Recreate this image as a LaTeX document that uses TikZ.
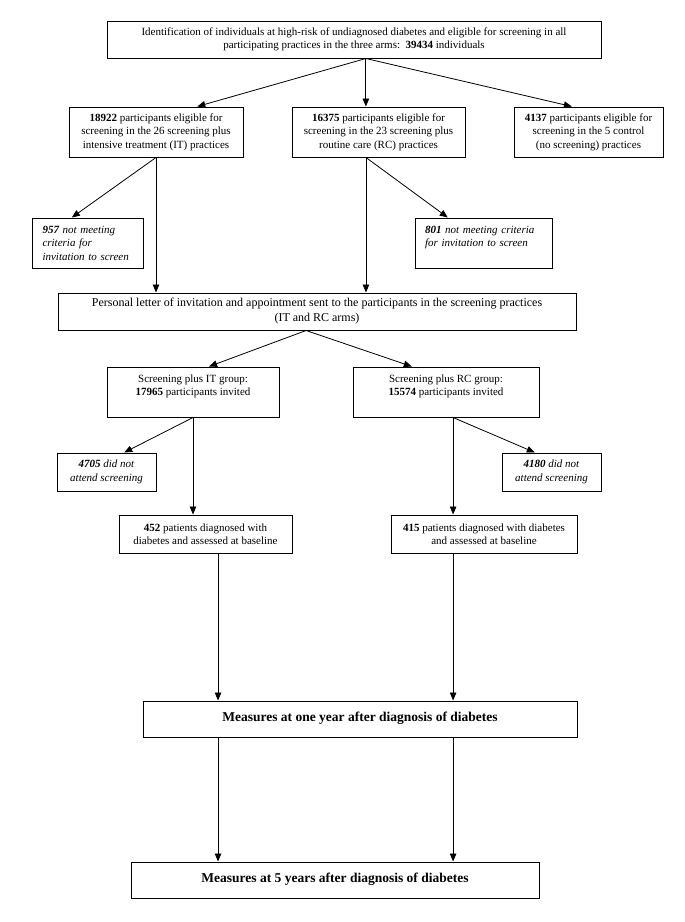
\documentclass[tikz,border=0pt]{standalone}
\usepackage{fontspec}
\setmainfont{Liberation Serif}
\usetikzlibrary{arrows.meta,calc}
\begin{document}
\begin{tikzpicture}[x=1pt,y=-1pt,
  box/.style={draw, line width=1pt, inner sep=0pt, align=center,
    font=\fontsize{11}{13.5}\selectfont},
  lbox/.style={box, align=left},
  bigbox/.style={box, font=\fontsize{13.5}{16}\selectfont\bfseries},
  arr/.style={-{Triangle[length=8pt,width=6.5pt]}, line width=0.8pt}]
\useasboundingbox (0,0) rectangle (685,922);

\node[box, minimum width=494pt, minimum height=37pt] (top) at (354,39.5)
  {Identification of individuals at high-risk of undiagnosed diabetes and eligible for screening in all\\
   participating practices in the three arms:\ \ \textbf{39434} individuals};

\node[box, minimum width=174pt, minimum height=50pt] (b1) at (156,132)
  {\textbf{18922} participants eligible for\\screening in the 26 screening plus\\intensive treatment (IT) practices};
\node[box, minimum width=173pt, minimum height=50pt] (b2) at (378.5,132)
  {\textbf{16375} participants eligible for\\screening in the 23 screening plus\\routine care (RC) practices};
\node[box, minimum width=149pt, minimum height=50pt] (b3) at (588.5,132)
  {\textbf{4137} participants eligible for\\screening in the 5 control\\(no screening) practices};

\node[lbox, inner xsep=10.5pt, text width=90pt, minimum height=50pt] (n957) at (87.5,243)
  {\mbox{\textit{\textbf{957} not meeting}}\\\mbox{\textit{criteria for}}\\\mbox{\textit{invitation to screen}}};
\node[lbox, inner xsep=10pt, text width=117pt, minimum height=50pt] (n801) at (483.5,243)
  {\mbox{\textit{\textbf{801} not meeting criteria}}\\\mbox{\textit{for invitation to screen}}\\\mbox{}};

\node[box, minimum width=518pt, minimum height=37pt, font=\fontsize{12}{15}\selectfont] (letter) at (317,311.5)
  {Personal letter of invitation and appointment sent to the participants in the screening practices\\(IT and RC arms)};

\node[box, minimum width=172pt, minimum height=50pt] (it) at (193,392)
  {Screening plus IT group:\\\textbf{17965} participants invited\\\mbox{}};
\node[box, minimum width=186pt, minimum height=50pt] (rc) at (446,392)
  {Screening plus RC group:\\\textbf{15574} participants invited\\\mbox{}};

\node[box, minimum width=99pt, minimum height=38pt] (n4705) at (106.5,472)
  {\textit{\textbf{4705} did not}\\\textit{attend screening}};
\node[box, minimum width=99pt, minimum height=38pt] (n4180) at (551.5,472)
  {\textit{\textbf{4180} did not}\\\textit{attend screening}};

\node[box, minimum width=173pt, minimum height=38pt] (n452) at (205.5,534)
  {\textbf{452} patients diagnosed with\\diabetes and assessed at baseline};
\node[box, minimum width=186pt, minimum height=38pt] (n415) at (484,534)
  {\textbf{415} patients diagnosed with diabetes\\and assessed at baseline};

\node[bigbox, minimum width=434pt, minimum height=36pt] (one) at (360,719)
  {\raisebox{4pt}{Measures at one year after diagnosis of diabetes}};
\node[bigbox, minimum width=408pt, minimum height=36pt] (five) at (335,880)
  {\raisebox{4pt}{Measures at 5 years after diagnosis of diabetes}};

% connectors
\coordinate (tA) at ($(top.south west)!.524!(top.south east)$);
\draw[arr] (tA) -- ($(b1.north west)!.736!(b1.north east)$);
\draw[arr] (tA) -- (b2.north -| tA);
\draw[arr] (tA) -- ($(b3.north west)!.389!(b3.north east)$);

\draw[arr] (b1.south) -- ($(n957.north west)!.36!(n957.north east)$);
\draw[arr] (b1.south) -- (letter.north -| b1.south);

\coordinate (b2o) at ($(b2.south west)!.428!(b2.south east)$);
\draw[arr] (b2o) -- ($(n801.north west)!.241!(n801.north east)$);
\draw[arr] (b2o) -- (letter.north -| b2o);

\coordinate (lA) at ($(letter.south west)!.479!(letter.south east)$);
\draw[arr] (lA) -- ($(it.north west)!.593!(it.north east)$);
\draw[arr] (lA) -- ($(rc.north west)!.317!(rc.north east)$);

\draw[arr] (it.south) -- ($(n4705.north west)!.677!(n4705.north east)$);
\draw[arr] (it.south) -- (n452.north -| it.south);

\coordinate (rcO) at ($(rc.south west)!.538!(rc.south east)$);
\draw[arr] (rcO) -- ($(n4180.north west)!.333!(n4180.north east)$);
\draw[arr] (rcO) -- (n415.north -| rcO);

\coordinate (p452) at ($(n452.south west)!.572!(n452.south east)$);
\coordinate (p415) at (n415.south -| rcO);
\draw[arr] (p452) -- (one.north -| p452);
\draw[arr] (p415) -- (one.north -| p415);
\draw[arr] (one.south -| p452) -- (five.north -| p452);
\draw[arr] (one.south -| p415) -- (five.north -| p415);
\end{tikzpicture}
\end{document}
